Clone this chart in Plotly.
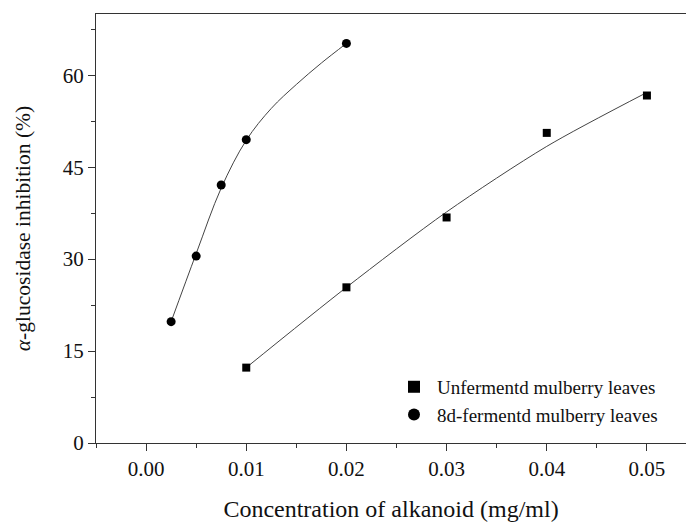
import plotly.graph_objects as go

# Measured data points
unferm_x = [0.01, 0.02, 0.03, 0.04, 0.05]
unferm_y = [12.3, 25.4, 36.8, 50.6, 56.7]

ferm_x = [0.0025, 0.005, 0.0075, 0.01, 0.02]
ferm_y = [19.8, 30.5, 42.1, 49.5, 65.2]

# Fitted curves
unferm_fit_x = [0.01, 0.02, 0.03, 0.04, 0.05]
unferm_fit_y = [12.3, 25.4, 37.7, 48.4, 57.2]

ferm_fit_x = [0.0025, 0.005, 0.0075, 0.01, 0.0125, 0.015, 0.0175, 0.02]
ferm_fit_y = [19.8, 30.9, 41.6, 49.4, 54.6, 58.5, 62.0, 65.2]

FONT = "'Liberation Serif', 'Times New Roman', Times, serif"
AX = "#333333"

fig = go.Figure()
fig.add_trace(go.Scatter(x=unferm_fit_x, y=unferm_fit_y, mode="lines",
                         line=dict(color="#444444", width=1, shape="spline", smoothing=0.8),
                         showlegend=False, hoverinfo="skip"))
fig.add_trace(go.Scatter(x=ferm_fit_x, y=ferm_fit_y, mode="lines",
                         line=dict(color="#444444", width=1, shape="spline", smoothing=1.0),
                         showlegend=False, hoverinfo="skip"))
fig.add_trace(go.Scatter(x=unferm_x, y=unferm_y, mode="markers",
                         name="Unfermentd mulberry leaves",
                         marker=dict(symbol="square", size=8, color="black")))
fig.add_trace(go.Scatter(x=ferm_x, y=ferm_y, mode="markers",
                         name="8d-fermentd mulberry leaves",
                         marker=dict(symbol="circle", size=9, color="black")))

fig.update_layout(
    width=686, height=522,
    margin=dict(l=96, r=0, t=14, b=79, autoexpand=False),
    paper_bgcolor="white", plot_bgcolor="white",
    font=dict(family=FONT, color="#111111", size=20),
    showlegend=True,
    legend=dict(x=0.5, y=0.175, xanchor="left", yanchor="top",
                bgcolor="rgba(0,0,0,0)", font=dict(size=19, family=FONT),
                itemwidth=36, itemsizing="constant", tracegroupgap=0),
)
fig.update_xaxes(
    range=[-0.005, 0.0539], tick0=0, dtick=0.01, tickformat=".2f",
    showgrid=False, zeroline=False, automargin=False,
    showline=True, linecolor=AX, linewidth=1.3, mirror=True,
    ticks="outside", ticklen=7, tickwidth=1.3, tickcolor=AX,
    minor=dict(dtick=0.005, tick0=0, ticks="outside", ticklen=4, tickwidth=1.3, tickcolor=AX),
    tickfont=dict(size=21, family=FONT),
    title=dict(text="Concentration of alkanoid (mg/ml)", font=dict(size=24, family=FONT), standoff=25),
)
fig.update_yaxes(
    range=[0, 70], tick0=0, dtick=15,
    showgrid=False, zeroline=False, automargin=False,
    showline=True, linecolor=AX, linewidth=1.3, mirror=False,
    ticks="outside", ticklen=7, tickwidth=1.3, tickcolor=AX,
    minor=dict(dtick=7.5, tick0=0, ticks="outside", ticklen=4, tickwidth=1.3, tickcolor=AX),
    tickfont=dict(size=21, family=FONT),
    title=dict(text="<i>α</i>-glucosidase inhibition (%)", font=dict(size=21.5, family=FONT), standoff=26),
)

fig.write_html("out.html", config={"displayModeBar": False},
               post_script="document.body.style.margin='0';document.body.style.padding='0';")
